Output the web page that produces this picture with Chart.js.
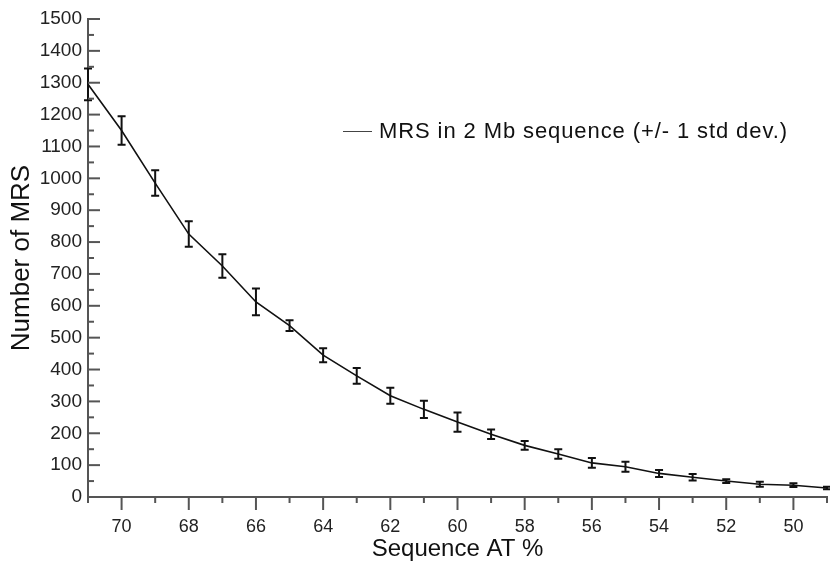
<!DOCTYPE html>
<html>
<head>
<meta charset="utf-8">
<script src="https://cdn.jsdelivr.net/npm/chart.js@4"></script>
<style>
  html, body { margin: 0; padding: 0; background: #fff; }
  #wrap { position: relative; width: 830px; height: 565px; }
  #legend {
    position: absolute; left: 343px; top: 118px;
    display: flex; align-items: center;
    font-family: "Liberation Sans", Arial, sans-serif;
    font-size: 22px; letter-spacing: 0.9px; color: #111;
  }
  #legend .swatch { width: 29px; height: 0; border-top: 1.5px solid #444; margin-right: 7px; }
</style>
</head>
<body>
<div id="wrap">
  <canvas id="chart" width="830" height="565"></canvas>
  <div id="legend"><span class="swatch"></span><span>MRS in 2 Mb sequence (+/- 1 std dev.)</span></div>
</div>
<script>
// datos
const atPercent = [71, 70, 69, 68, 67, 66, 65, 64, 63, 62, 61, 60, 59, 58, 57, 56, 55, 54, 53, 52, 51, 50, 49];
const mrsCount  = [1295, 1150, 985, 825, 725, 612, 538, 445, 380, 318, 275, 235, 197, 162, 135, 107, 95, 74, 62, 50, 40, 37, 28];
const mrsStdDev = [50, 45, 40, 40, 37, 42, 17, 22, 25, 25, 27, 30, 15, 14, 15, 15, 16, 11, 10, 6, 8, 6, 4];
const xTickLabels = [70, 68, 66, 64, 62, 60, 58, 56, 54, 52, 50];
const yTicks = [0, 100, 200, 300, 400, 500, 600, 700, 800, 900, 1000, 1100, 1200, 1300, 1400, 1500];

const FONT = '"Liberation Sans", Arial, sans-serif';

// barras de error (+/- 1 desviacion)
const errorBars = {
  id: 'errorBars',
  afterDatasetsDraw(chart) {
    const { ctx, scales: { x, y } } = chart;
    ctx.save();
    ctx.strokeStyle = '#111';
    ctx.lineWidth = 2;
    atPercent.forEach((v, i) => {
      const px = x.getPixelForValue(v);
      const top = y.getPixelForValue(mrsCount[i] + mrsStdDev[i]);
      const bot = y.getPixelForValue(mrsCount[i] - mrsStdDev[i]);
      ctx.beginPath();
      ctx.moveTo(px, top); ctx.lineTo(px, bot);
      ctx.moveTo(px - 4, top); ctx.lineTo(px + 4, top);
      ctx.moveTo(px - 4, bot); ctx.lineTo(px + 4, bot);
      ctx.stroke();
    });
    ctx.restore();
  }
};

// marcas de los ejes: y hacia dentro, x hacia fuera, mayores y menores
const axisTicks = {
  id: 'axisTicks',
  afterDraw(chart) {
    const { ctx, chartArea, scales: { x, y } } = chart;
    ctx.save();
    ctx.strokeStyle = '#555';
    ctx.lineWidth = 2;
    for (let v = 0; v <= 1500; v += 50) {
      const py = y.getPixelForValue(v);
      const len = v % 100 === 0 ? 12 : 6;
      ctx.beginPath();
      ctx.moveTo(chartArea.left, py); ctx.lineTo(chartArea.left + len, py);
      ctx.stroke();
    }
    for (let v = 49; v <= 71; v++) {
      const px = x.getPixelForValue(v);
      const len = v % 2 === 0 ? 13 : 6;
      ctx.beginPath();
      ctx.moveTo(px, chartArea.bottom); ctx.lineTo(px, chartArea.bottom + len);
      ctx.stroke();
    }
    ctx.restore();
  }
};

new Chart(document.getElementById('chart'), {
  type: 'line',
  data: {
    datasets: [{
      label: 'MRS in 2 Mb sequence (+/- 1 std dev.)',
      data: atPercent.map((v, i) => ({ x: v, y: mrsCount[i] })),
      borderColor: '#111',
      borderWidth: 1.6,
      pointRadius: 0,
      tension: 0,
      fill: false,
      clip: false
    }]
  },
  options: {
    responsive: false,
    animation: false,
    layout: { padding: { top: 19, right: 3, left: 0, bottom: 0 } },
    plugins: { legend: { display: false }, tooltip: { enabled: false } },
    scales: {
      x: {
        type: 'linear',
        reverse: true,
        min: 49,
        max: 71,
        afterFit: s => { s.height = 68; },
        afterBuildTicks: s => { s.ticks = xTickLabels.map(v => ({ value: v })); },
        grid: { display: true, drawOnChartArea: false, drawTicks: false, color: 'rgba(0,0,0,0)' },
        border: { display: true, color: '#555', width: 2 },
        ticks: { padding: 19, color: '#222', font: { family: FONT, size: 18 }, maxRotation: 0, callback: v => String(v) },
        title: { display: true, text: 'Sequence AT %', color: '#111', font: { family: FONT, size: 24 }, padding: { top: 0, bottom: 1 } }
      },
      y: {
        min: 0,
        max: 1500,
        afterFit: s => { s.width = 88; },
        afterBuildTicks: s => { s.ticks = yTicks.map(v => ({ value: v })); },
        grid: { display: true, drawOnChartArea: false, drawTicks: false, color: 'rgba(0,0,0,0)' },
        border: { display: true, color: '#555', width: 2 },
        ticks: { padding: 6, color: '#222', font: { family: FONT, size: 19 }, callback: v => String(v) },
        title: { display: true, text: 'Number of MRS', color: '#111', font: { family: FONT, size: 26 }, padding: { top: 6, bottom: 0 } }
      }
    }
  },
  plugins: [errorBars, axisTicks]
});
</script>
</body>
</html>
